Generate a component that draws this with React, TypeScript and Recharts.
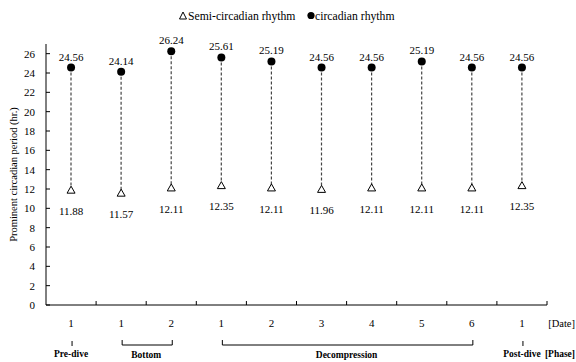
import { ComposedChart, Bar, Line, XAxis, YAxis, LabelList } from 'recharts'

const dates = ['1', '1', '2', '1', '2', '3', '4', '5', '6', '1']
const semiCircadian = [11.88, 11.57, 12.11, 12.35, 12.11, 11.96, 12.11, 12.11, 12.11, 12.35]
const circadian = [24.56, 24.14, 26.24, 25.61, 25.19, 24.56, 24.56, 25.19, 24.56, 24.56]
const yTicks = [0, 2, 4, 6, 8, 10, 12, 14, 16, 18, 20, 22, 24, 26]
const phases = [
  { name: 'Pre-dive', start: 0, end: 0 },
  { name: 'Bottom', start: 1, end: 2 },
  { name: 'Decompression', start: 3, end: 8 },
  { name: 'Post-dive', start: 9, end: 9 },
]

const data = dates.map((d, i) => ({
  idx: i,
  date: d,
  semi: semiCircadian[i],
  circ: circadian[i],
  range: [semiCircadian[i], circadian[i]],
}))

const W = 576
const H = 362
const M = { top: 44, right: 29, bottom: 0, left: 0 }
const Y_AXIS_W = 46
const X_AXIS_H = 57
const AXIS_X = M.left + Y_AXIS_W
const PLOT_W = W - M.left - M.right - Y_AXIS_W
const AXIS_Y = H - M.bottom - X_AXIS_H
const BAND = PLOT_W / dates.length
const FONT = '"Liberation Serif", "Times New Roman", serif'

function DateTick(props: any) {
  const { x, payload } = props
  const i = payload.value as number
  const right = x + BAND / 2
  const phase = phases.find((p) => p.start === i)
  return (
    <g fontFamily={FONT}>
      <text x={x} y={AXIS_Y + 22} textAnchor="middle" fontSize={11} fill="#000">
        {dates[i]}
      </text>
      <line x1={right} x2={right} y1={AXIS_Y} y2={AXIS_Y - 4} stroke="#000" />
      {i === dates.length - 1 && (
        <text x={W - 1} y={AXIS_Y + 22} textAnchor="end" fontSize={10.5} fill="#000">
          [Date]
        </text>
      )}
      {phase && phase.start === phase.end && (
        <g>
          <line x1={x + 1} x2={x + 1} y1={AXIS_Y + 36} y2={AXIS_Y + 41} stroke="#000" />
          <text x={x} y={AXIS_Y + 52} textAnchor="middle" fontSize={9.5} fontWeight="bold" fill="#000">
            {phase.name}
          </text>
          {i === dates.length - 1 && (
            <text x={W - 1} y={AXIS_Y + 52} textAnchor="end" fontSize={9.5} fontWeight="bold" fill="#000">
              [Phase]
            </text>
          )}
        </g>
      )}
      {phase && phase.start !== phase.end && (
        <g>
          <path
            d={`M${x + 1},${AXIS_Y + 35} V${AXIS_Y + 40} H${x + 1 + (phase.end - phase.start) * BAND} V${AXIS_Y + 35}`}
            fill="none"
            stroke="#000"
          />
          <text
            x={x + ((phase.end - phase.start) * BAND) / 2}
            y={AXIS_Y + 53}
            textAnchor="middle"
            fontSize={9.5}
            fontWeight="bold"
            fill="#000"
          >
            {phase.name}
          </text>
        </g>
      )}
    </g>
  )
}

function ValueTick(props: any) {
  const { y, payload } = props
  return (
    <g>
      <line x1={AXIS_X} x2={AXIS_X + 4} y1={y} y2={y} stroke="#000" />
      <text x={AXIS_X - 11} y={y + 4} textAnchor="end" fontSize={11} fontFamily={FONT} fill="#000">
        {payload.value}
      </text>
    </g>
  )
}

function DashedStem(props: any) {
  const { x, y, width, height } = props
  const cx = x + width / 2
  return <line x1={cx} x2={cx} y1={y} y2={y + height} stroke="#444" strokeDasharray="3 2" strokeWidth={1.2} />
}

function CircleDot(props: any) {
  const { cx, cy, index } = props
  return <circle key={`c${index}`} cx={cx} cy={cy} r={4} fill="#000" />
}

function TriangleDot(props: any) {
  const { cx, cy, index } = props
  return (
    <path
      key={`t${index}`}
      d={`M${cx},${cy - 4} L${cx + 4},${cy + 3} L${cx - 4},${cy + 3} Z`}
      fill="#fff"
      stroke="#000"
      strokeWidth={1}
    />
  )
}

export default function App() {
  return (
    <div style={{ position: 'relative', width: W, height: H, background: '#fff' }}>
      <style>{'body{margin:0}'}</style>
      <svg width={W} height={30} style={{ position: 'absolute', left: 0, top: 0 }} fontFamily={FONT}>
        <path d="M183,12 L186.5,19 L179.5,19 Z" fill="none" stroke="#000" />
        <text x={188} y={19.5} fontSize={11.7} fill="#000">Semi-circadian rhythm</text>
        <circle cx={311} cy={15.5} r={3.6} fill="#000" />
        <text x={315} y={19.5} fontSize={11.7} fill="#000">circadian rhythm</text>
      </svg>
      <ComposedChart width={W} height={H} data={data} margin={M} barCategoryGap={0}>
        <XAxis
          dataKey="idx"
          type="category"
          height={X_AXIS_H}
          tickLine={false}
          axisLine={{ stroke: '#000' }}
          tick={<DateTick />}
          interval={0}
        />
        <YAxis
          width={Y_AXIS_W}
          domain={[0, 27]}
          ticks={yTicks}
          interval={0}
          tickLine={false}
          axisLine={{ stroke: '#000' }}
          tick={<ValueTick />}
          label={{
            value: 'Prominent circadian period (hr.)',
            angle: -90,
            position: 'insideLeft',
            offset: 13,
            style: { textAnchor: 'middle', fontSize: 10.5, fontFamily: FONT, fill: '#000' },
          }}
        />
        <Bar dataKey="range" shape={<DashedStem />} isAnimationActive={false} />
        <Line dataKey="circ" stroke="none" dot={CircleDot} activeDot={false} isAnimationActive={false}>
          <LabelList
            dataKey="circ"
            position="top"
            offset={7}
            formatter={(v: any) => Number(v).toFixed(2)}
            style={{ fontSize: 11, fontFamily: FONT, fill: '#000' }}
          />
        </Line>
        <Line dataKey="semi" stroke="none" dot={TriangleDot} activeDot={false} isAnimationActive={false}>
          <LabelList
            dataKey="semi"
            position="bottom"
            offset={17}
            formatter={(v: any) => Number(v).toFixed(2)}
            style={{ fontSize: 11, fontFamily: FONT, fill: '#000' }}
          />
        </Line>
      </ComposedChart>
    </div>
  )
}
